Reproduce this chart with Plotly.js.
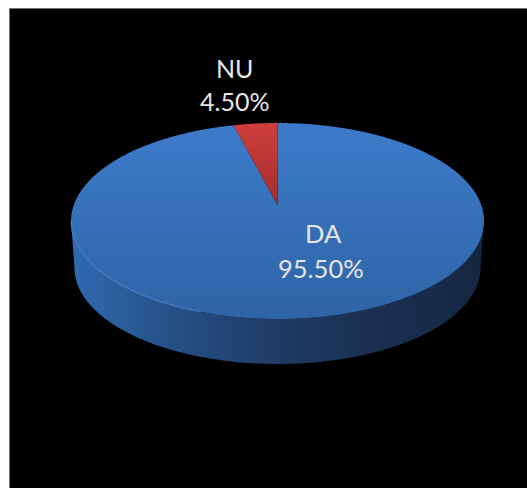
<!DOCTYPE html>
<html>
<head>
<meta charset="utf-8">
<script src="https://cdn.plot.ly/plotly-3.0.1.min.js"></script>
<style>html,body{margin:0;padding:0;background:#fff;overflow:hidden}</style>
</head>
<body>
<div id="chart" style="width:527px;height:488px"></div>
<script>
var categories = ['DA', 'NU'];
var shares = [95.5, 4.5];
var sliceStart = [0, 95.5];
var topStops = [[0, '#2e64a6'], [1, '#3d7bca']];
var nuStops = [[0, '#a32d2c'], [1, '#cf3f3c']];
var sideStops = [[0, '#3069b0'], [0.14, '#2a5b98'], [0.32, '#24497b'], [0.5, '#1e3c66'], [0.7, '#1a3153'], [0.9, '#162a49'], [1, '#14253f']];

var C = {x: 277.5, y: 221, rx: 206.5, ry: 98};
var LOW = {x: 277.5, y: 268, rx: 203, ry: 96};
var APEX = {x: 277.5, y: 205};
var STRETCH = 1.9;

function rayHit(deg) {
  var a = deg * Math.PI / 180;
  var dx = Math.sin(a) * STRETCH, dy = -Math.cos(a);
  var ox = APEX.x - C.x, oy = APEX.y - C.y;
  var A = dx * dx / (C.rx * C.rx) + dy * dy / (C.ry * C.ry);
  var B = 2 * (ox * dx / (C.rx * C.rx) + oy * dy / (C.ry * C.ry));
  var D = ox * ox / (C.rx * C.rx) + oy * oy / (C.ry * C.ry) - 1;
  var t = (-B + Math.sqrt(B * B - 4 * A * D)) / (2 * A);
  return [APEX.x + t * dx, APEX.y + t * dy];
}
function slicePath(startPct, pct) {
  var xs = [APEX.x], ys = [APEX.y];
  var n = Math.ceil(pct * 8);
  for (var i = 0; i <= n; i++) {
    var p = rayHit((startPct + pct * i / n) * 3.6);
    xs.push(p[0]); ys.push(p[1]);
  }
  xs.push(APEX.x); ys.push(APEX.y);
  return {x: xs, y: ys};
}
function arc(e, from, to) {
  var xs = [], ys = [];
  for (var i = 0; i <= 120; i++) {
    var t = (from + (to - from) * i / 120) * Math.PI / 180;
    xs.push(e.x + e.rx * Math.cos(t));
    ys.push(e.y + e.ry * Math.sin(t));
  }
  return {x: xs, y: ys};
}
function gradientFill(path, stops, type) {
  return {
    type: 'scatter', mode: 'none', x: path.x, y: path.y, fill: 'toself',
    fillgradient: {type: type, colorscale: stops},
    hoverinfo: 'skip', showlegend: false
  };
}

var low = arc(LOW, 180, 0), up = arc(C, 0, 180);
var side = {x: low.x.concat(up.x), y: low.y.concat(up.y)};
var traces = [gradientFill(side, sideStops, 'horizontal')];
traces.push(gradientFill(slicePath(sliceStart[0], shares[0]), topStops, 'vertical'));
traces.push(gradientFill(slicePath(sliceStart[1], shares[1]), nuStops, 'vertical'));
var rim = arc(C, 180, 112);
traces.push({type: 'scatter', mode: 'lines', x: rim.x, y: rim.y,
  line: {color: '#5a97e0', width: 1.5}, opacity: 0.5, hoverinfo: 'skip', showlegend: false});

function label(i, x1, x2, y1, y2, size) {
  var common = {xref: 'x', yref: 'y', showarrow: false,
    font: {family: 'Lato, Carlito, sans-serif', size: size, color: '#e6e6e6'},
    xanchor: 'center', yanchor: 'middle'};
  return [
    Object.assign({}, common, {x: x1, y: y1, text: categories[i]}),
    Object.assign({}, common, {x: x2, y: y2, text: shares[i].toFixed(2) + '%'})
  ];
}
var annotations = label(0, 323.5, 320.5, 233, 268, 25.5).concat(label(1, 234.5, 234, 68, 101, 25));

Plotly.newPlot('chart', traces, {
  width: 527, height: 488,
  margin: {l: 10, r: 0, t: 9, b: 0},
  paper_bgcolor: '#ffffff', plot_bgcolor: '#000000',
  showlegend: false,
  xaxis: {range: [10, 527], visible: true, showgrid: false, zeroline: false, showticklabels: false,
    ticks: '', side: 'top', showline: true, linecolor: '#777777', linewidth: 1, fixedrange: true},
  yaxis: {range: [488, 9], visible: true, showgrid: false, zeroline: false, showticklabels: false,
    ticks: '', showline: true, linecolor: '#777777', linewidth: 1, fixedrange: true},
  annotations: annotations
}, {displayModeBar: false, staticPlot: true});
</script>
</body>
</html>
